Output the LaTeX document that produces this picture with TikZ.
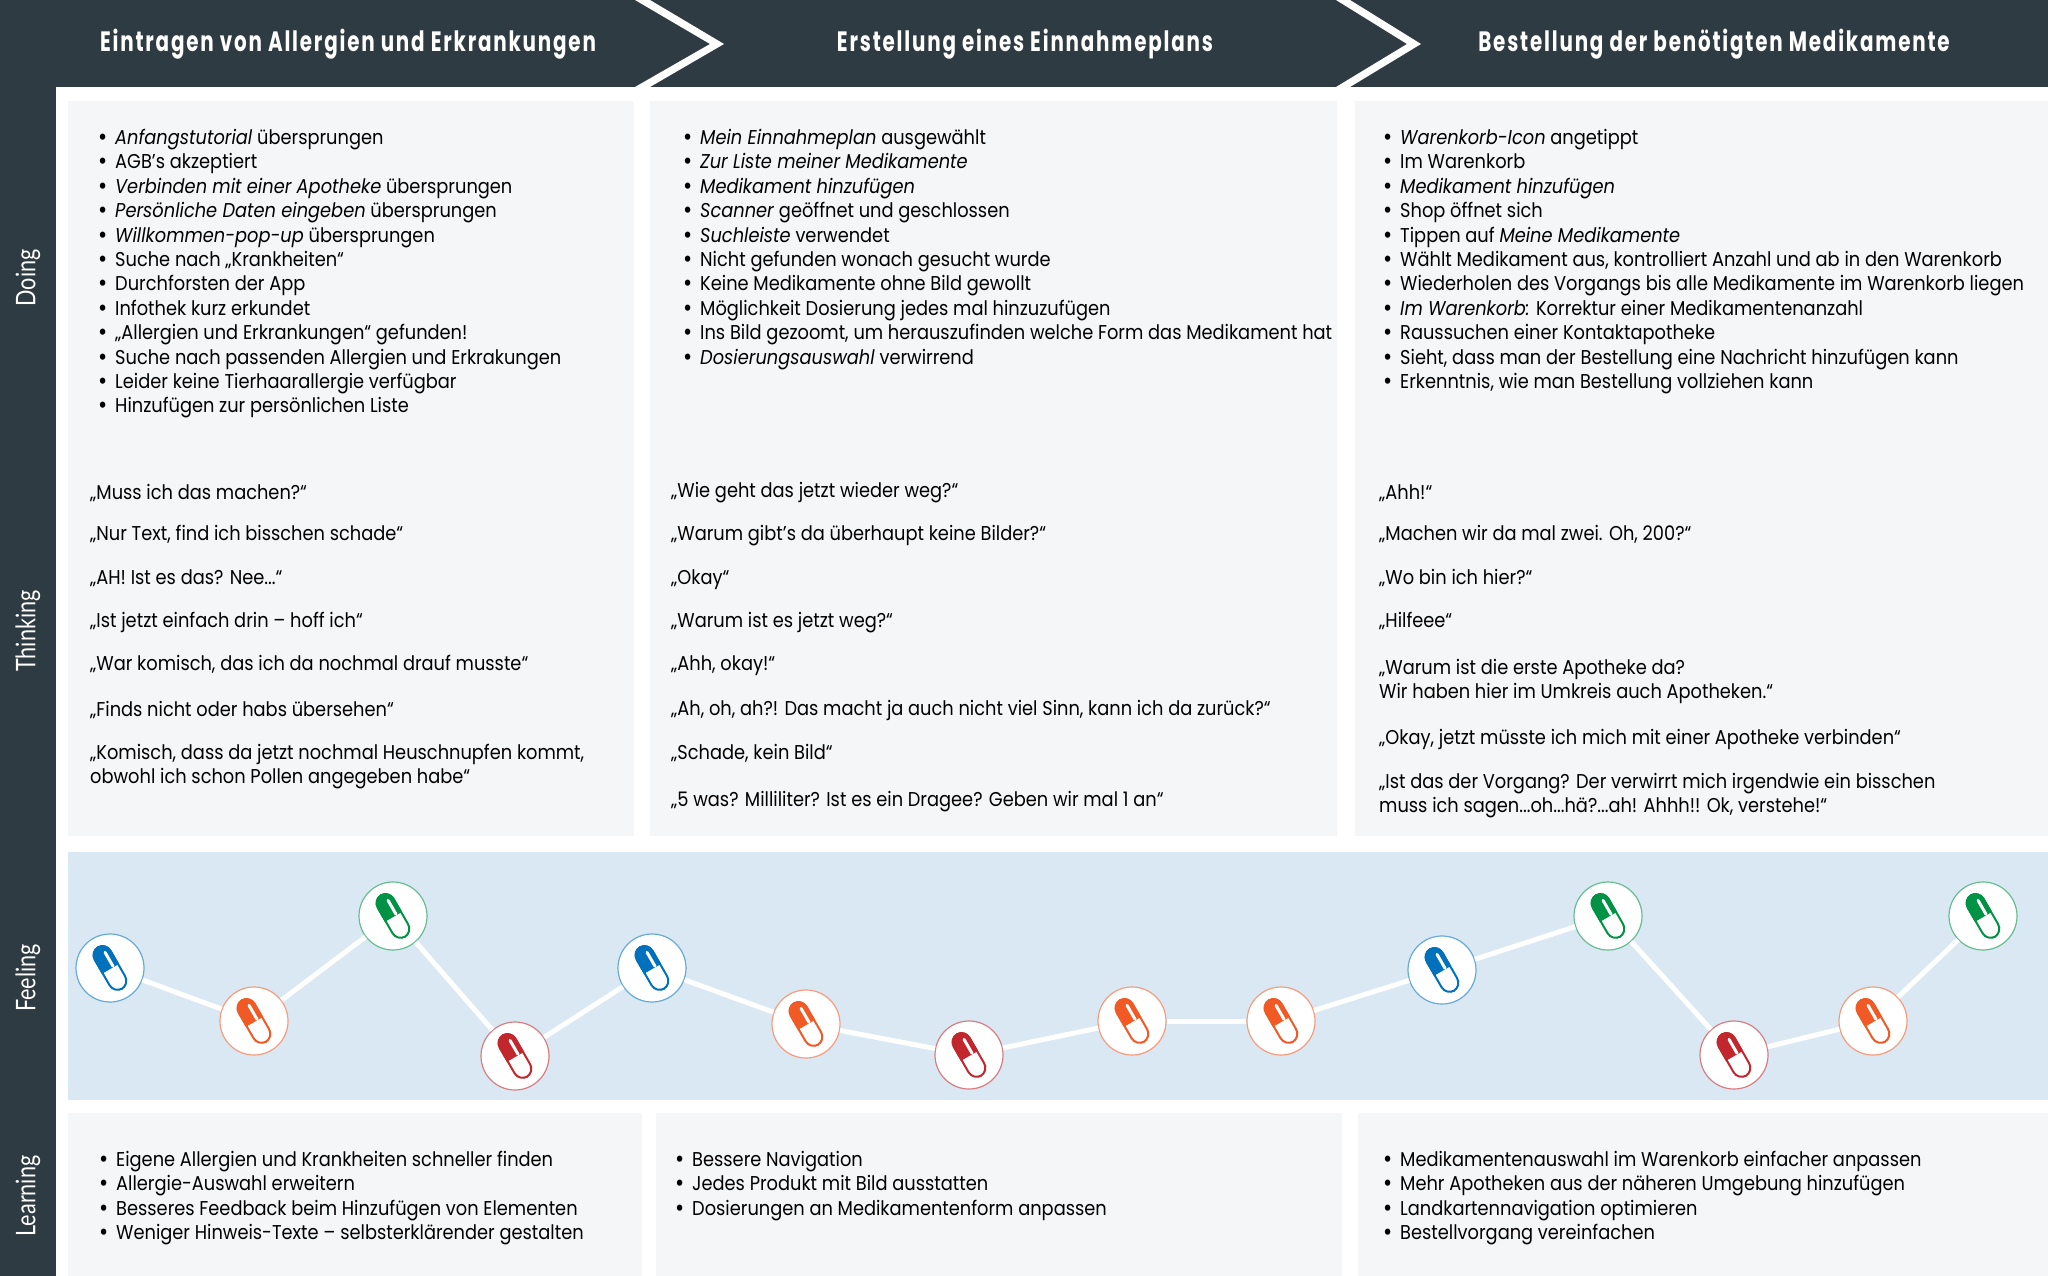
\documentclass[tikz,border=0pt]{standalone}
\usepackage{fontspec}
\setmainfont{Poppins}[FakeStretch=0.89]
\newfontfamily\headfont{Poppins}[FakeStretch=0.71,LetterSpace=6.5,BoldFont={Poppins Bold}]
\newfontfamily\sidefont{Lato}[FakeStretch=0.8]
\definecolor{darkbar}{HTML}{2F3B42}
\definecolor{panelc}{HTML}{F5F6F8}
\definecolor{feelc}{HTML}{D9E8F3}
\definecolor{pblue}{HTML}{0071BC}
\definecolor{porange}{HTML}{F15A24}
\definecolor{pgreen}{HTML}{009245}
\definecolor{pred}{HTML}{C1272D}
\newcommand\bl{\makebox[17pt][l]{\raisebox{-1pt}{\fontsize{25}{24.4}\selectfont •}}}
\newcommand\pillat[2]{%
  \begin{scope}[shift={(#1.center)},rotate=30]
    \draw[#2,fill=white,line width=2pt,rounded corners=9.5pt] (-9,-24) rectangle (9,24);
    \fill[#2] (-10,1) [rounded corners=10pt] -- (-10,-25) -- (10,-25) [sharp corners] -- (10,1) -- cycle;
    \draw[white,line width=3pt,line cap=round] (3.5,-16) -- (3.5,0);
  \end{scope}}
\tikzset{
  x=1pt,y=-1pt,
  panel/.style={fill=panelc,draw=none},
  txt/.style={anchor=base west,inner sep=0pt,align=left,yshift=-1.5pt,font=\fontsize{20}{24.4}\selectfont,text=black},
  head/.style={text=white,inner sep=0pt,font=\headfont\bfseries\fontsize{28}{30}\selectfont},
  side/.style={text=white,inner sep=0pt,rotate=90,font=\sidefont\fontsize{27}{30}\selectfont},
  feel/.style={circle,fill=white,minimum size=68pt,inner sep=0pt,draw=#1!60,line width=1.2pt},
  link/.style={white,line width=5pt}
}
\begin{document}
\begin{tikzpicture}
\useasboundingbox (0,0) rectangle (2048,1276);
\fill[white] (0,0) rectangle (2048,1276);
\fill[darkbar] (0,0) rectangle (2048,87);
\fill[darkbar] (0,0) rectangle (56,1276);
% panels
\fill[panel] (68,101) rectangle (634,836);
\fill[panel] (650,101) rectangle (1337,836);
\fill[panel] (1355,101) rectangle (2048,836);
\fill[feelc] (68,852) rectangle (2048,1100);
\fill[panel] (68,1113) rectangle (642,1276);
\fill[panel] (656,1113) rectangle (1342,1276);
\fill[panel] (1358,1113) rectangle (2048,1276);
% chevrons
\fill[white] (635,0) -- (710,44) -- (635,87) -- (650,87) -- (724,44) -- (650,0) -- cycle;
\fill[white] (1336,0) -- (1407,44) -- (1336,87) -- (1350,87) -- (1421,44) -- (1350,0) -- cycle;
% header
\node[head] (h1) at (348,44.5) {Eintragen von Allergien und Erkrankungen};
\node[head] (h2) at (1025,44.5) {Erstellung eines Einnahmeplans};
\node[head] (h3) at (1714,44.5) {Bestellung der benötigten Medikamente};
% side
\node[side] (s1) at (28,278) {Doing};
\node[side] (s2) at (28,631) {Thinking};
\node[side] (s3) at (28,978) {Feeling};
\node[side] (s4) at (28,1196) {Learning};
% doing
\node[txt] (d1) at (98,411.4) {\bl\emph{Anfangstutorial} übersprungen\\
\bl AGB’s akzeptiert\\
\bl\emph{Verbinden mit einer Apotheke} übersprungen\\
\bl\emph{Persönliche Daten eingeben} übersprungen\\
\bl\emph{Willkommen-pop-up} übersprungen\\
\bl Suche nach „Krankheiten“\\
\bl Durchforsten der App\\
\bl Infothek kurz erkundet\\
\bl „Allergien und Erkrankungen“ gefunden!\\
\bl Suche nach passenden Allergien und Erkrakungen\\
\bl Leider keine Tierhaarallergie verfügbar\\
\bl Hinzufügen zur persönlichen Liste};
\node[txt] (d2) at (683,362.6) {\bl\emph{Mein Einnahmeplan} ausgewählt\\
\bl\emph{Zur Liste meiner Medikamente}\\
\bl\emph{Medikament hinzufügen}\\
\bl\emph{Scanner} geöffnet und geschlossen\\
\bl\emph{Suchleiste} verwendet\\
\bl Nicht gefunden wonach gesucht wurde\\
\bl Keine Medikamente ohne Bild gewollt\\
\bl Möglichkeit Dosierung jedes mal hinzuzufügen\\
\bl Ins Bild gezoomt, um herauszufinden welche Form das Medikament hat\\
\bl\emph{Dosierungsauswahl} verwirrend};
\node[txt] (d3) at (1383,387) {\bl\emph{Warenkorb-Icon} angetippt\\
\bl Im Warenkorb\\
\bl\emph{Medikament hinzufügen}\\
\bl Shop öffnet sich\\
\bl Tippen auf \emph{Meine Medikamente}\\
\bl Wählt Medikament aus, kontrolliert Anzahl und ab in den Warenkorb\\
\bl Wiederholen des Vorgangs bis alle Medikamente im Warenkorb liegen\\
\bl\emph{Im Warenkorb:} Korrektur einer Medikamentenanzahl\\
\bl Raussuchen einer Kontaktapotheke\\
\bl Sieht, dass man der Bestellung eine Nachricht hinzufügen kann\\
\bl Erkenntnis, wie man Bestellung vollziehen kann};
% thinking col 1
\node[txt] (a1) at (90,498) {„Muss ich das machen?“};
\node[txt] (a2) at (90,539) {„Nur Text, find ich bisschen schade“};
\node[txt] (a3) at (90,583) {„AH! Ist es das? Nee...“};
\node[txt] (a4) at (90,626) {„Ist jetzt einfach drin – hoff ich“};
\node[txt] (a5) at (90,669) {„War komisch, das ich da nochmal drauf musste“};
\node[txt] (a6) at (90,715) {„Finds nicht oder habs übersehen“};
\node[txt] (a7) at (90,782) {„Komisch, dass da jetzt nochmal Heuschnupfen kommt,\\obwohl ich schon Pollen angegeben habe“};
% col 2
\node[txt] (b1) at (671,496) {„Wie geht das jetzt wieder weg?“};
\node[txt] (b2) at (671,539) {„Warum gibt’s da überhaupt keine Bilder?“};
\node[txt] (b3) at (671,583) {„Okay“};
\node[txt] (b4) at (671,626) {„Warum ist es jetzt weg?“};
\node[txt] (b5) at (671,669) {„Ahh, okay!“};
\node[txt] (b6) at (671,714) {„Ah, oh, ah?! Das macht ja auch nicht viel Sinn, kann ich da zurück?“};
\node[txt] (b7) at (671,758) {„Schade, kein Bild“};
\node[txt] (b8) at (671,805) {„5 was? Milliliter? Ist es ein Dragee? Geben wir mal 1 an“};
% col 3
\node[txt] (c1) at (1379,498) {„Ahh!“};
\node[txt] (c2) at (1379,539) {„Machen wir da mal zwei. Oh, 200?“};
\node[txt] (c3) at (1379,583) {„Wo bin ich hier?“};
\node[txt] (c4) at (1379,626) {„Hilfeee“};
\node[txt] (c5) at (1379,697) {„Warum ist die erste Apotheke da?\\Wir haben hier im Umkreis auch Apotheken.“};
\node[txt] (c6) at (1379,743) {„Okay, jetzt müsste ich mich mit einer Apotheke verbinden“};
\node[txt] (c7) at (1379,811) {„Ist das der Vorgang? Der verwirrt mich irgendwie ein bisschen\\muss ich sagen...oh...hä?...ah! Ahhh!! Ok, verstehe!“};
% learning
\node[txt] (l1) at (99,1238) {\bl Eigene Allergien und Krankheiten schneller finden\\
\bl Allergie-Auswahl erweitern\\
\bl Besseres Feedback beim Hinzufügen von Elementen\\
\bl Weniger Hinweis-Texte – selbsterklärender gestalten};
\node[txt] (l2) at (675,1213.8) {\bl Bessere Navigation\\
\bl Jedes Produkt mit Bild ausstatten\\
\bl Dosierungen an Medikamentenform anpassen};
\node[txt] (l3) at (1383,1238) {\bl Medikamentenauswahl im Warenkorb einfacher anpassen\\
\bl Mehr Apotheken aus der näheren Umgebung hinzufügen\\
\bl Landkartennavigation optimieren\\
\bl Bestellvorgang vereinfachen};
% feeling
\node[feel=pblue] (f1) at (110,968) {};
\node[feel=porange] (f2) at (254,1021) {};
\node[feel=pgreen] (f3) at (393,916) {};
\node[feel=pred] (f4) at (515,1056) {};
\node[feel=pblue] (f5) at (652,968) {};
\node[feel=porange] (f6) at (806,1024) {};
\node[feel=pred] (f7) at (969,1055) {};
\node[feel=porange] (f8) at (1132,1021) {};
\node[feel=porange] (f9) at (1281,1021) {};
\node[feel=pblue] (f10) at (1442,970) {};
\node[feel=pgreen] (f11) at (1608,916) {};
\node[feel=pred] (f12) at (1734,1055) {};
\node[feel=porange] (f13) at (1873,1021) {};
\node[feel=pgreen] (f14) at (1983,916) {};
\draw[link] (f1)--(f2);\draw[link] (f2)--(f3);\draw[link] (f3)--(f4);\draw[link] (f4)--(f5);
\draw[link] (f5)--(f6);\draw[link] (f6)--(f7);\draw[link] (f7)--(f8);\draw[link] (f8)--(f9);
\draw[link] (f9)--(f10);\draw[link] (f10)--(f11);\draw[link] (f11)--(f12);\draw[link] (f12)--(f13);\draw[link] (f13)--(f14);
\pillat{f1}{pblue}\pillat{f2}{porange}\pillat{f3}{pgreen}\pillat{f4}{pred}\pillat{f5}{pblue}
\pillat{f6}{porange}\pillat{f7}{pred}\pillat{f8}{porange}\pillat{f9}{porange}\pillat{f10}{pblue}
\pillat{f11}{pgreen}\pillat{f12}{pred}\pillat{f13}{porange}\pillat{f14}{pgreen}
\end{tikzpicture}
\end{document}
